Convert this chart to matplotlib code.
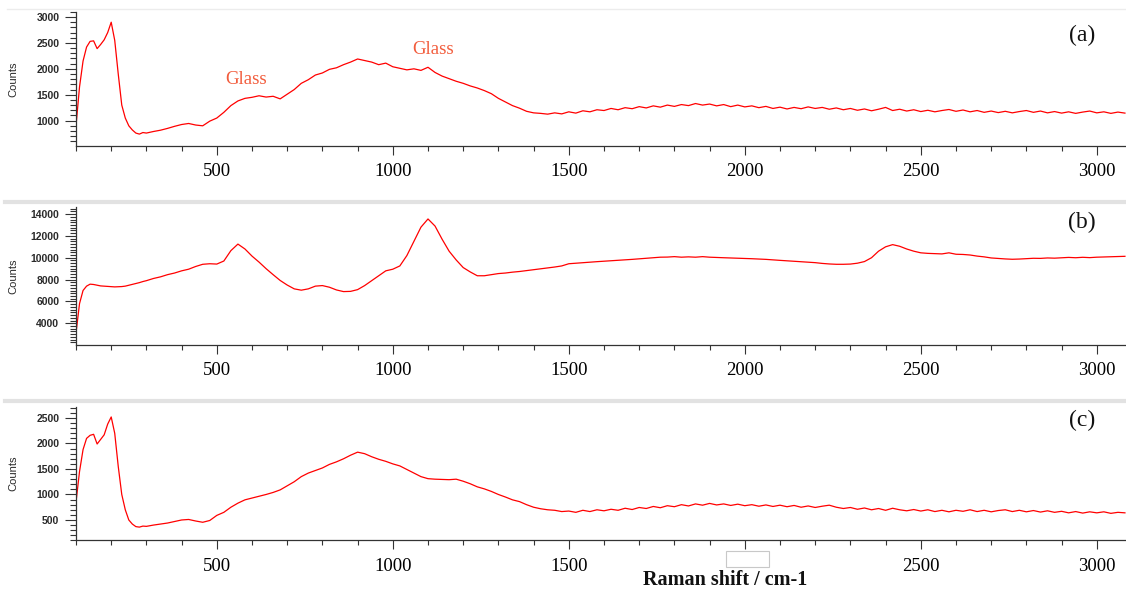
import numpy as np
import matplotlib
matplotlib.use('Agg')
import matplotlib.pyplot as plt
from matplotlib.ticker import MultipleLocator, FuncFormatter
from matplotlib.lines import Line2D
from matplotlib.patches import Rectangle

# Raman shift grid (cm-1): 10 steps over the low-wavenumber peaks, then 20 steps
raman_shift = np.concatenate([np.arange(100, 300, 10), np.arange(300, 3081, 20)])

# (a) counts
counts_a = [900, 1650, 2150, 2420, 2530, 2540, 2390, 2470, 2560, 2700,   # 100-190
            2900, 2550, 1900, 1300, 1050, 900, 820, 760, 740, 770,       # 200-290
            760, 790, 815, 850, 890, 925, 945, 915, 900, 990,
            1050, 1160, 1290, 1380, 1430, 1450, 1480, 1455, 1470, 1420,
            1510, 1600, 1720, 1790, 1880, 1920, 1990, 2020, 2080, 2130,
            2190, 2160, 2130, 2080, 2110, 2040, 2010, 1980, 2000, 1970,
            2030, 1930, 1860, 1810, 1760, 1720, 1670, 1630, 1580, 1520,
            1430, 1360, 1290, 1240, 1180, 1150, 1140, 1125, 1150, 1130,
            1170, 1145, 1190, 1170, 1210, 1195, 1235, 1210, 1250, 1230,
            1270, 1245, 1285, 1260, 1300, 1275, 1310, 1290, 1330, 1300,
            1320, 1285, 1310, 1270, 1300, 1265, 1285, 1250, 1275, 1235,
            1260, 1225, 1255, 1230, 1265, 1235, 1255, 1220, 1245, 1210,
            1235, 1200, 1225, 1190, 1220, 1255, 1195, 1220, 1185, 1210,
            1175, 1200, 1170, 1195, 1215, 1180, 1205, 1170, 1195, 1160,
            1185, 1155, 1180, 1150, 1175, 1195, 1160, 1185, 1150, 1175,
            1145, 1170, 1140, 1165, 1185, 1150, 1170, 1140, 1165, 1145]   # 2900-3080

# (b)
counts_b = [3100, 5800, 7000, 7400, 7580, 7550, 7480, 7420, 7400, 7380,
            7350, 7330, 7340, 7360, 7400, 7480, 7550, 7640, 7720, 7820,
            7900, 8100, 8250, 8450, 8600, 8800, 8950, 9200, 9400, 9450,
            9420, 9700, 10650, 11250, 10800, 10150, 9600, 9000, 8450, 7920,
            7500, 7150, 7030, 7150, 7400, 7450, 7300, 7050, 6900, 6920,
            7080, 7450, 7900, 8350, 8800, 8950, 9250, 10200, 11500, 12800,
            13550, 12900, 11700, 10600, 9800, 9100, 8700, 8350, 8350, 8450,
            8550, 8600, 8680, 8740, 8820, 8900, 8980, 9060, 9150, 9250,
            9450, 9500, 9560, 9600, 9640, 9680, 9720, 9760, 9800, 9850,
            9900, 9950, 10000, 10050, 10060, 10100, 10050, 10080, 10050, 10100,
            10050, 10020, 10000, 9980, 9950, 9940, 9910, 9880, 9850, 9800,
            9760, 9720, 9680, 9640, 9600, 9550, 9480, 9430, 9400, 9400,
            9420, 9500, 9650, 10000, 10600, 11000, 11200, 11050, 10800, 10600,
            10450, 10400, 10380, 10350, 10450, 10320, 10300, 10250, 10150, 10080,
            9980, 9930, 9890, 9860, 9880, 9920, 9950, 9940, 9980, 9960,
            10000, 10030, 10000, 10040, 10010, 10050, 10070, 10090, 10100, 10130]

# (c)
counts_c = [850, 1450, 1880, 2100, 2160, 2180, 1990, 2080, 2170, 2380,
            2520, 2200, 1550, 1000, 700, 500, 420, 370, 360, 380,
            375, 400, 420, 440, 470, 500, 510, 480, 455, 490,
            590, 650, 750, 830, 895, 930, 965, 1000, 1040, 1090,
            1170, 1250, 1350, 1420, 1470, 1520, 1590, 1640, 1700, 1770,
            1830, 1800, 1740, 1690, 1650, 1600, 1560, 1490, 1420, 1350,
            1310, 1300, 1295, 1290, 1300, 1260, 1210, 1150, 1110, 1060,
            1000, 950, 895, 860, 800, 750, 720, 700, 690, 665,
            675, 650, 690, 665, 700, 680, 710, 690, 730, 705,
            745, 725, 765, 740, 780, 760, 800, 775, 815, 790,
            825, 795, 815, 785, 810, 780, 800, 770, 795, 765,
            790, 760, 785, 750, 775, 745, 770, 790, 750, 725,
            745, 710, 735, 700, 725, 690, 730, 700, 680, 705,
            675, 700, 665, 690, 660, 690, 670, 700, 665, 690,
            660, 685, 700, 665, 690, 660, 685, 655, 680, 650,
            670, 640, 665, 635, 660, 640, 660, 630, 650, 640]

panel_labels = ['(a)', '(b)', '(c)']
y_limits = [(515, 3100), (2030, 14600), (100, 2720)]
y_major = [500, 2000, 500]
y_minor = [100, 250, 100]
glass_notes = [(583, 1790), (1114, 2380)]

SERIF = 'Liberation Serif'
SANS = 'Liberation Sans'
AXIS_GREY = '#333333'


def Plot_Panel(ax, counts, label, label_y, ylim, major, minor):
    ax.plot(raman_shift, counts, color='#ff0000', lw=0.9)

    ax.set_xlim(100, 3083)
    ax.set_ylim(*ylim)
    ax.xaxis.set_major_locator(MultipleLocator(500))
    ax.xaxis.set_minor_locator(MultipleLocator(100))
    ax.yaxis.set_major_locator(MultipleLocator(major))
    ax.yaxis.set_minor_locator(MultipleLocator(minor))

    for side in ['top', 'right']:
        ax.spines[side].set_visible(False)
    for side in ['left', 'bottom']:
        ax.spines[side].set_color(AXIS_GREY)
        ax.spines[side].set_linewidth(0.9)

    ax.tick_params(axis='x', which='major', direction='out', length=6.5, width=0.8,
                   color=AXIS_GREY, pad=6, labelsize=13.5)
    ax.tick_params(axis='x', which='minor', direction='out', length=3.5, width=0.8, color=AXIS_GREY)
    ax.tick_params(axis='y', which='major', direction='out', length=8, width=0.8,
                   color=AXIS_GREY, pad=4, labelsize=7.5)
    ax.tick_params(axis='y', which='minor', direction='out', length=4, width=0.8, color=AXIS_GREY)

    for t in ax.get_xticklabels():
        t.set_fontfamily(SERIF)
    for t in ax.get_yticklabels():
        t.set_fontfamily(SANS)
        t.set_fontweight('bold')
        t.set_color('#2a2a2a')

    ax.set_ylabel('Counts', fontfamily=SANS, fontsize=8, color='#2a2a2a')
    ax.yaxis.set_label_coords(-0.0552, 0.5)

    ax.text(0.958, label_y, label, transform=ax.transAxes, ha='center', va='center',
            fontfamily=SERIF, fontsize=17, color='#111111')
    return


if __name__ == '__main__':
    fig = plt.figure(figsize=(11.26, 5.92), dpi=100)

    # axes boxes in figure fraction
    boxes = [[0.0675, 0.7538, 0.9325, 0.2262],
             [0.0675, 0.4176, 0.9325, 0.2319],
             [0.0675, 0.0872, 0.9325, 0.2257]]
    label_y = [0.827, 0.894, 0.901]
    series = [counts_a, counts_b, counts_c]

    axes = []
    for i in range(3):
        ax = fig.add_axes(boxes[i])
        Plot_Panel(ax, series[i], panel_labels[i], label_y[i], y_limits[i], y_major[i], y_minor[i])
        axes.append(ax)

    # the 2000 label of the bottom panel is hidden under an empty box in the screenshot
    axes[2].xaxis.set_major_formatter(FuncFormatter(lambda v, p: '' if v == 2000 else '%d' % v))

    # Glass annotations on panel (a)
    for gx, gy in glass_notes:
        axes[0].text(gx, gy, 'Glass', ha='center', va='center', fontfamily=SERIF,
                     fontsize=13.5, color='#f25c3c')

    fig.text(725/1126, 1-580/592, 'Raman shift / cm-1', ha='center', va='center',
             fontfamily=SERIF, fontweight='bold', fontsize=14.5, color='#111111')

    # window separators and empty box left over from the screenshot
    fig.add_artist(Line2D([0.006, 1.0], [1-9/592, 1-9/592], transform=fig.transFigure,
                          color='#ececec', lw=1.0))
    for yp in [202.5, 400.5]:
        fig.add_artist(Line2D([0.004, 1.0], [1-yp/592, 1-yp/592], transform=fig.transFigure,
                              color='#e2e2e2', lw=3.0))
    fig.add_artist(Rectangle((726/1126, 1-567/592), 43/1126, 16/592, transform=fig.transFigure,
                             fc='white', ec='#c8c8c8', lw=0.8))

    fig.savefig('out.png', dpi=100)
